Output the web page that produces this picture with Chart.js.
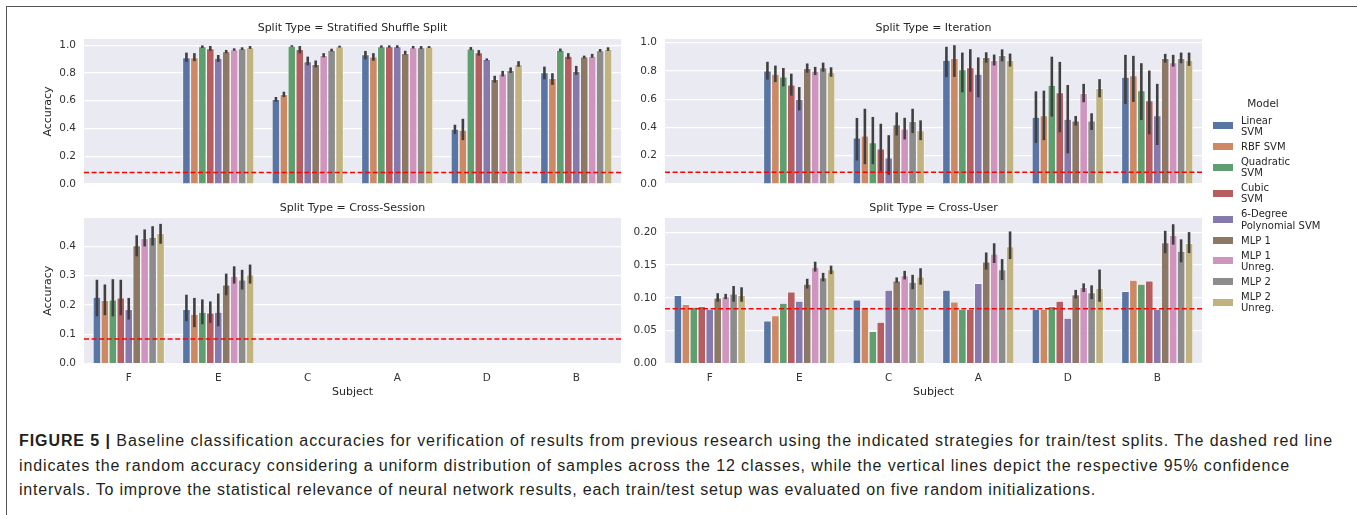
<!DOCTYPE html>
<html><head><meta charset="utf-8">
<script src="https://cdn.jsdelivr.net/npm/chart.js@4.4.0/dist/chart.umd.min.js"></script>
<style>
html,body{margin:0;padding:0;background:#fff;}
body{width:1357px;height:515px;position:relative;overflow:hidden;font-family:'DejaVu Sans';}
.frame{position:absolute;left:6px;top:6px;width:1400px;height:600px;border-left:1.5px solid #555;border-top:1.5px solid #555;}
.cw{position:absolute;}
#legend{position:absolute;left:1205px;top:97px;width:150px;color:#262626;font-family:'DejaVu Sans';font-size:10px;}
#legend .ttl{position:absolute;left:8px;width:100px;text-align:center;font-size:10.5px;line-height:13px;top:0;}
#legend .items{position:absolute;left:0;top:17.6px;}
#legend .it{position:relative;margin-bottom:3.7px;line-height:11.3px;padding-left:36px;white-space:nowrap;}
#legend .sw{position:absolute;left:8px;top:50%;width:20px;height:7px;margin-top:-3.5px;}
#caption{position:absolute;left:19px;top:429px;font-family:'Liberation Sans';font-size:16px;line-height:24.5px;color:#231f20;white-space:nowrap;}
#caption .cl{display:block;height:24.5px;}
#caption .cl span{display:inline-block;}
</style></head><body>
<div class="frame"></div>
<div class="cw" style="left:0;top:10px;width:705px;height:190px"><canvas id="c1" width="705" height="190"></canvas></div>
<div class="cw" style="left:600px;top:10px;width:667px;height:190px"><canvas id="c2" width="667" height="190"></canvas></div>
<div class="cw" style="left:0;top:195px;width:705px;height:210px"><canvas id="c3" width="705" height="210"></canvas></div>
<div class="cw" style="left:600px;top:195px;width:667px;height:210px"><canvas id="c4" width="667" height="210"></canvas></div>
<div id="legend"><div class="ttl">Model</div><div class="items" id="legItems"></div></div>
<div id="caption">
<div class="cl"><span data-w="1314"><b>FIGURE 5 |</b> Baseline classification accuracies for verification of results from previous research using the indicated strategies for train/test splits. The dashed red line</span></div>
<div class="cl"><span data-w="1271">indicates the random accuracy considering a uniform distribution of samples across the 12 classes, while the vertical lines depict the respective 95% confidence</span></div>
<div class="cl"><span data-w="1077">intervals. To improve the statistical relevance of neural network results, each train/test setup was evaluated on five random initializations.</span></div>
</div>
<script>
const _ = null;
const subjects = ['F','E','C','A','D','B'];
const models = ['Linear SVM','RBF SVM','Quadratic SVM','Cubic SVM','6-Degree Polynomial SVM','MLP 1','MLP 1 Unreg.','MLP 2','MLP 2 Unreg.'];
const legendLabels = [['Linear','SVM'],['RBF SVM'],['Quadratic','SVM'],['Cubic','SVM'],['6-Degree','Polynomial SVM'],['MLP 1'],['MLP 1','Unreg.'],['MLP 2'],['MLP 2','Unreg.']];
const colors = ['#5875A4','#CC8963','#5F9E6E','#B55D60','#857AAB','#8D7866','#D095BF','#8C8C8C','#C1B37F'];
const chanceLevel = 0.0833;

const ticksStratified = [0,0.2,0.4,0.6,0.8,1.0];
const ticksIteration = [0,0.2,0.4,0.6,0.8,1.0];
const ticksCrossSession = [0,0.1,0.2,0.3,0.4];
const ticksCrossUser = [0,0.05,0.10,0.15,0.20];

// rows = models, columns = subjects F,E,C,A,D,B
const stratifiedMean = [
  [_,0.911,0.610,0.933,0.396,0.803],
  [_,0.911,0.646,0.916,0.388,0.762],
  [_,0.990,0.995,0.990,0.975,0.966],
  [_,0.976,0.970,0.990,0.947,0.923],
  [_,0.908,0.882,0.990,0.898,0.812],
  [_,0.954,0.863,0.942,0.755,0.916],
  [_,0.969,0.928,0.983,0.794,0.923],
  [_,0.976,0.965,0.983,0.820,0.962],
  [_,0.983,0.990,0.988,0.865,0.971]];
const stratifiedLow = [
  [_,0.880,0.593,0.899,0.361,0.755],
  [_,0.885,0.626,0.888,0.316,0.714],
  [_,0.980,0.988,0.982,0.965,0.955],
  [_,0.960,0.942,0.982,0.925,0.900],
  [_,0.880,0.855,0.980,0.890,0.786],
  [_,0.942,0.840,0.933,0.730,0.905],
  [_,0.960,0.913,0.976,0.775,0.910],
  [_,0.966,0.955,0.973,0.800,0.952],
  [_,0.974,0.983,0.980,0.845,0.960]];
const stratifiedHigh = [
  [_,0.947,0.627,0.959,0.427,0.846],
  [_,0.943,0.665,0.943,0.470,0.798],
  [_,0.999,1.000,0.999,0.987,0.976],
  [_,0.995,0.994,0.999,0.965,0.943],
  [_,0.930,0.918,1.000,0.905,0.851],
  [_,0.966,0.890,0.960,0.780,0.925],
  [_,0.978,0.943,0.995,0.815,0.938],
  [_,0.985,0.975,0.994,0.840,0.973],
  [_,0.994,0.997,0.994,0.885,0.985]];

const iterationMean = [
  [_,0.801,0.327,0.877,0.473,0.756],
  [_,0.777,0.340,0.888,0.484,0.767],
  [_,0.757,0.293,0.809,0.700,0.660],
  [_,0.701,0.248,0.823,0.646,0.590],
  [_,0.598,0.185,0.777,0.460,0.483],
  [_,0.817,0.421,0.895,0.446,0.889],
  [_,0.798,0.390,0.875,0.642,0.858],
  [_,0.824,0.443,0.910,0.446,0.889],
  [_,0.791,0.378,0.875,0.677,0.877]];
const iterationLow = [
  [_,0.738,0.166,0.756,0.290,0.566],
  [_,0.720,0.140,0.757,0.310,0.580],
  [_,0.690,0.140,0.648,0.476,0.453],
  [_,0.625,0.090,0.652,0.366,0.351],
  [_,0.520,0.065,0.613,0.217,0.276],
  [_,0.787,0.343,0.858,0.413,0.858],
  [_,0.770,0.315,0.838,0.578,0.830],
  [_,0.794,0.360,0.867,0.382,0.854],
  [_,0.758,0.310,0.830,0.613,0.835]];
const iterationHigh = [
  [_,0.864,0.467,0.970,0.655,0.913],
  [_,0.837,0.532,0.981,0.660,0.906],
  [_,0.820,0.474,0.929,0.900,0.854],
  [_,0.780,0.426,0.953,0.863,0.802],
  [_,0.685,0.345,0.895,0.700,0.708],
  [_,0.852,0.506,0.931,0.481,0.920],
  [_,0.828,0.468,0.915,0.708,0.913],
  [_,0.858,0.532,0.952,0.500,0.929],
  [_,0.825,0.450,0.922,0.741,0.929]];

const crossSessionMean = [
  [0.227,0.185,_,_,_,_],
  [0.216,0.169,_,_,_,_],
  [0.218,0.176,_,_,_,_],
  [0.224,0.173,_,_,_,_],
  [0.185,0.176,_,_,_,_],
  [0.403,0.269,_,_,_,_],
  [0.428,0.299,_,_,_,_],
  [0.432,0.286,_,_,_,_],
  [0.445,0.303,_,_,_,_]];
const crossSessionLow = [
  [0.161,0.145,_,_,_,_],
  [0.165,0.124,_,_,_,_],
  [0.161,0.134,_,_,_,_],
  [0.165,0.139,_,_,_,_],
  [0.150,0.127,_,_,_,_],
  [0.366,0.233,_,_,_,_],
  [0.400,0.273,_,_,_,_],
  [0.403,0.253,_,_,_,_],
  [0.409,0.273,_,_,_,_]];
const crossSessionHigh = [
  [0.286,0.235,_,_,_,_],
  [0.270,0.224,_,_,_,_],
  [0.288,0.219,_,_,_,_],
  [0.286,0.212,_,_,_,_],
  [0.224,0.239,_,_,_,_],
  [0.438,0.307,_,_,_,_],
  [0.458,0.332,_,_,_,_],
  [0.469,0.320,_,_,_,_],
  [0.477,0.338,_,_,_,_]];

const crossUserMean = [
  [0.104,0.065,0.097,0.112,0.083,0.110],
  [0.090,0.073,0.086,0.094,0.083,0.127],
  [0.086,0.092,0.049,0.083,0.087,0.121],
  [0.087,0.109,0.063,0.083,0.095,0.126],
  [0.083,0.095,0.112,0.122,0.069,0.083],
  [0.100,0.121,0.126,0.155,0.105,0.184],
  [0.102,0.147,0.134,0.167,0.116,0.195],
  [0.106,0.131,0.124,0.143,0.108,0.171],
  [0.104,0.143,0.132,0.178,0.115,0.183]];
const crossUserLow = [
  [_,_,_,_,_,_],[_,_,_,_,_,_],[_,_,_,_,_,_],[_,_,_,_,_,_],[_,_,_,_,_,_],
  [0.094,0.114,0.123,0.143,0.099,0.168],
  [0.098,0.140,0.128,0.153,0.109,0.181],
  [0.094,0.125,0.113,0.127,0.098,0.154],
  [0.094,0.136,0.120,0.159,0.094,0.168]];
const crossUserHigh = [
  [_,_,_,_,_,_],[_,_,_,_,_,_],[_,_,_,_,_,_],[_,_,_,_,_,_],[_,_,_,_,_,_],
  [0.107,0.129,0.131,0.169,0.112,0.202],
  [0.106,0.155,0.141,0.183,0.122,0.212],
  [0.118,0.138,0.135,0.159,0.119,0.189],
  [0.116,0.149,0.145,0.201,0.143,0.200]];

Chart.defaults.font.family = "'DejaVu Sans'";
Chart.defaults.color = '#333';

const bgPlugin = {id:'plotBg', beforeDraw(chart){
  const a = chart.chartArea, ctx = chart.ctx;
  ctx.save(); ctx.fillStyle = '#EAEAF2'; ctx.fillRect(a.left, a.top, a.width, a.height); ctx.restore();
}};
function errorBars(lo, hi){
  return {id:'errorBars', afterDatasetsDraw(chart){
    const ctx = chart.ctx, ys = chart.scales.y;
    ctx.save(); ctx.strokeStyle = '#404040'; ctx.lineWidth = 2.6; ctx.lineCap = 'butt';
    chart.data.datasets.forEach((d, i) => {
      chart.getDatasetMeta(i).data.forEach((el, j) => {
        const a = lo[i][j], b = hi[i][j];
        if (a == null || b == null) return;
        ctx.beginPath();
        ctx.moveTo(el.x, ys.getPixelForValue(a));
        ctx.lineTo(el.x, ys.getPixelForValue(b));
        ctx.stroke();
      });
    });
    ctx.restore();
  }};
}
const chancePlugin = {id:'chance', afterDatasetsDraw(chart){
  const a = chart.chartArea, ctx = chart.ctx, y = chart.scales.y.getPixelForValue(chanceLevel);
  ctx.save(); ctx.strokeStyle = '#ff0000'; ctx.lineWidth = 1.5; ctx.setLineDash([5, 2.6]);
  ctx.beginPath(); ctx.moveTo(a.left, y); ctx.lineTo(a.right, y); ctx.stroke(); ctx.restore();
}};

function build(id, p){
  const datasets = models.map((m, i) => ({
    label: m, data: p.mean[i], backgroundColor: colors[i],
    borderColor: '#ffffff', borderWidth: 0.7,
    categoryPercentage: 0.8, barPercentage: 1.0
  }));
  return new Chart(document.getElementById(id), {
    type: 'bar',
    data: {labels: subjects, datasets},
    plugins: [bgPlugin, errorBars(p.lo, p.hi), chancePlugin],
    options: {
      responsive: false, animation: false, devicePixelRatio: 1,
      layout: {padding: {left: 0, right: 0, top: 0, bottom: 0}, autoPadding: false},
      plugins: {
        legend: {display: false}, tooltip: {enabled: false},
        title: {display: true, text: p.title, color: '#262626', font: {size: 11, weight: 'normal'},
                padding: p.titlePad}
      },
      scales: {
        x: {
          offset: true, border: {display: false},
          grid: {display: false, drawTicks: false},
          ticks: {display: p.showX, padding: 8, color: '#333', font: {size: 10.5}, maxRotation: 0},
          title: {display: p.showX, text: 'Subject', color: '#262626', font: {size: 11}, padding: {top: 0, bottom: 6.4}},
          afterFit: s => { s.height = p.xH; }
        },
        y: {
          min: 0, max: p.ymax, border: {display: false},
          grid: {color: '#ffffff', lineWidth: 1.2, drawTicks: false},
          afterBuildTicks: s => { s.ticks = p.ticks.map(v => ({value: v})); },
          ticks: {padding: 8, color: '#333', font: {size: 10.5}, callback: v => Number(v).toFixed(p.dec)},
          title: {display: p.yTitle, text: 'Accuracy', color: '#262626', font: {size: 11}, padding: {top: 42, bottom: 0}},
          afterFit: s => { s.width = p.yW; }
        },
        yPad: {
          type: 'linear', position: 'right', display: true,
          grid: {display: false, drawTicks: false}, border: {display: false},
          ticks: {display: false},
          afterFit: s => { s.width = p.yW; }
        }
      }
    }
  });
}

build('c1', {title: 'Split Type = Stratified Shuffle Split', mean: stratifiedMean, lo: stratifiedLow, hi: stratifiedHigh,
  ymax: 1.045, ticks: ticksStratified, dec: 1, yW: 84, yTitle: true, showX: false, xH: 16, titlePad: {top: 11.7, bottom: 4.1}});
build('c2', {title: 'Split Type = Iteration', mean: iterationMean, lo: iterationLow, hi: iterationHigh,
  ymax: 1.025, ticks: ticksIteration, dec: 1, yW: 65, yTitle: false, showX: false, xH: 16, titlePad: {top: 11.7, bottom: 4.1}});
build('c3', {title: 'Split Type = Cross-Session', mean: crossSessionMean, lo: crossSessionLow, hi: crossSessionHigh,
  ymax: 0.497, ticks: ticksCrossSession, dec: 1, yW: 84, yTitle: true, showX: true, xH: 41.5, titlePad: {top: 6.1, bottom: 3.7}});
build('c4', {title: 'Split Type = Cross-User', mean: crossUserMean, lo: crossUserLow, hi: crossUserHigh,
  ymax: 0.2215, ticks: ticksCrossUser, dec: 2, yW: 65, yTitle: false, showX: true, xH: 41.5, titlePad: {top: 6.1, bottom: 3.7}});

const leg = document.getElementById('legItems');
legendLabels.forEach((lines, i) => {
  const it = document.createElement('div'); it.className = 'it';
  const sw = document.createElement('div'); sw.className = 'sw'; sw.style.background = colors[i];
  it.appendChild(sw);
  lines.forEach((t, k) => { if (k) it.appendChild(document.createElement('br')); it.appendChild(document.createTextNode(t)); });
  leg.appendChild(it);
});

function fitCaption(){
  document.querySelectorAll('#caption .cl span').forEach(sp => {
    sp.style.letterSpacing = '0px';
    const w = sp.getBoundingClientRect().width;
    const n = sp.textContent.length;
    const target = parseFloat(sp.dataset.w);
    sp.style.letterSpacing = ((target - w) / n) + 'px';
  });
}
fitCaption();
if (document.fonts && document.fonts.ready) document.fonts.ready.then(fitCaption);
</script>
</body></html>
